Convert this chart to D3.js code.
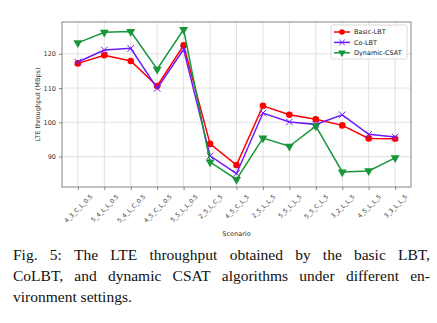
<!DOCTYPE html>
<html>
<head>
<meta charset="utf-8">
<script src="https://cdn.jsdelivr.net/npm/d3@7"></script>
<style>
  body { margin: 0; background: #fff; }
  svg { display: block; }
</style>
</head>
<body>
<div id="chart"></div>
<script>
// scenarios on the x axis
const scenarios = ["4_3_C_L_0.5", "5_4_L_L_0.5", "5_4_L_C_0.5", "4_5_C_L_0.5", "5_5_L_L_0.5",
  "2_5_L_C_5", "4_5_C_L_5", "2_5_L_L_5", "5_5_L_L_5", "5_5_C_L_5", "3_2_L_L_5", "4_5_L_L_5", "3_3_L_L_5"];

const basicLBT = [117.2, 119.6, 117.9, 110.6, 122.5, 93.7, 87.5, 104.8, 102.2, 100.9, 99.1, 95.3, 95.2];
const coLBT = [117.6, 121.1, 121.6, 109.9, 121.3, 90.2, 85.0, 102.7, 100.1, 99.4, 102.2, 96.5, 95.7];
const dynamicCSAT = [123.2, 126.3, 126.5, 115.5, 127.1, 88.4, 83.3, 95.4, 93.0, 98.9, 85.5, 85.8, 89.6];

const yTicks = [90, 100, 110, 120];
const captionLines = [
  "Fig. 5: The LTE throughput obtained by the basic LBT,",
  "CoLBT, and dynamic CSAT algorithms under different en-",
  "vironment settings."
];

const W = 437, H = 323;
const plot = {left: 62, right: 411, top: 22, bottom: 187};

const series = [
  {name: "Basic-LBT", values: basicLBT, color: "#ff0000", marker: "circle"},
  {name: "Co-LBT", values: coLBT, color: "#6a1aff", marker: "x"},
  {name: "Dynamic-CSAT", values: dynamicCSAT, color: "#17973a", marker: "tri"}
];

const svg = d3.select("#chart").append("svg")
  .attr("width", W).attr("height", H);

const n = scenarios.length;
const x = d3.scaleLinear().domain([-0.6, n - 1 + 0.6]).range([plot.left, plot.right]);
const all = series.flatMap(s => s.values);
const lo = d3.min(all), hi = d3.max(all), pad = (hi - lo) * 0.05;
const y = d3.scaleLinear().domain([lo - pad, hi + pad]).range([plot.bottom, plot.top]);

// grid
const grid = svg.append("g").attr("stroke", "#d9d9d9").attr("stroke-width", 0.8);
grid.selectAll(".gx").data(d3.range(n)).enter().append("line")
  .attr("x1", d => x(d)).attr("x2", d => x(d))
  .attr("y1", plot.top).attr("y2", plot.bottom);
grid.selectAll(".gy").data(yTicks).enter().append("line")
  .attr("x1", plot.left).attr("x2", plot.right)
  .attr("y1", d => y(d)).attr("y2", d => y(d));

// axes
const font = "DejaVu Sans, sans-serif";
const xAxis = d3.axisBottom(x).tickValues(d3.range(n)).tickSize(3).tickFormat(i => scenarios[i]);
const gx = svg.append("g").attr("transform", `translate(0,${plot.bottom})`).call(xAxis);
gx.select(".domain").remove();
gx.selectAll("line").attr("stroke", "#555").attr("stroke-width", 0.7);
// rotated labels centred on their tick, tops lined up just under the axis
const labelTop = 6;
gx.selectAll("text")
  .attr("font-family", font).attr("font-size", 6).attr("fill", "#333")
  .attr("text-anchor", "middle")
  .attr("dy", "0.35em").attr("y", 0)
  .each(function() {
    const L = this.getComputedTextLength();
    const cy = labelTop + L * Math.SQRT1_2 / 2 + 2.5;
    d3.select(this).attr("transform", `translate(0,${cy}) rotate(-45)`);
  });

const yAxis = d3.axisLeft(y).tickValues(yTicks).tickSize(3);
const gy = svg.append("g").attr("transform", `translate(${plot.left},0)`).call(yAxis);
gy.select(".domain").remove();
gy.selectAll("line").attr("stroke", "#555").attr("stroke-width", 0.7);
gy.selectAll("text").attr("font-family", font).attr("font-size", 6.5).attr("fill", "#333");

svg.append("rect")
  .attr("x", plot.left).attr("y", plot.top)
  .attr("width", plot.right - plot.left).attr("height", plot.bottom - plot.top)
  .attr("fill", "none").attr("stroke", "#666").attr("stroke-width", 0.8);

svg.append("text")
  .attr("transform", `translate(40,${(plot.top + plot.bottom) / 2}) rotate(-90)`)
  .attr("text-anchor", "middle").attr("font-family", font).attr("font-size", 6.5).attr("fill", "#333")
  .text("LTE throughput (MBps)");

svg.append("text")
  .attr("x", (plot.left + plot.right) / 2).attr("y", 236)
  .attr("text-anchor", "middle").attr("font-family", font).attr("font-size", 6.5).attr("fill", "#333")
  .text("Scenario");

function drawMarker(g, type, color, size) {
  if (type === "circle") {
    g.append("circle").attr("r", size).attr("fill", color);
  } else if (type === "x") {
    g.append("path").attr("d", `M${-size},${-size}L${size},${size}M${-size},${size}L${size},${-size}`)
      .attr("stroke", color).attr("stroke-width", 1);
  } else {
    g.append("path").attr("d", d3.symbol(d3.symbolTriangle, size * size * 3.2)())
      .attr("transform", "rotate(180)").attr("fill", color);
  }
}

const line = d3.line().x((d, i) => x(i)).y(d => y(d));

series.forEach(s => {
  svg.append("path").attr("d", line(s.values))
    .attr("fill", "none").attr("stroke", s.color).attr("stroke-width", 1.5);
  s.values.forEach((v, i) => {
    const g = svg.append("g").attr("transform", `translate(${x(i)},${y(v)})`);
    drawMarker(g, s.marker, s.color, 3.3);
  });
});

// legend
const lg = svg.append("g").attr("transform", "translate(331,25)");
lg.append("rect").attr("width", 76).attr("height", 34).attr("rx", 1.5)
  .attr("fill", "#fff").attr("fill-opacity", 0.85).attr("stroke", "#d0d0d0").attr("stroke-width", 0.8);
series.forEach((s, i) => {
  const row = lg.append("g").attr("transform", `translate(0,${7 + i * 10.4})`);
  row.append("line").attr("x1", 3).attr("x2", 19).attr("stroke", s.color).attr("stroke-width", 1.5);
  const m = row.append("g").attr("transform", "translate(11,0)");
  drawMarker(m, s.marker, s.color, 2.8);
  row.append("text").attr("x", 23).attr("dy", "0.35em")
    .attr("font-family", font).attr("font-size", 6.5).attr("fill", "#222").text(s.name);
});

// caption, justified except the last line
const capLeft = 13, capRight = 430, capSize = 15.5;
captionLines.forEach((txt, li) => {
  const yPos = 260 + li * 21;
  const words = txt.split(" ");
  const tg = svg.append("g");
  const nodes = words.map(w => tg.append("text")
    .attr("font-family", "Liberation Serif, Times New Roman, serif")
    .attr("font-size", capSize).attr("fill", "#111").attr("y", yPos).text(w));
  const widths = nodes.map(t => t.node().getComputedTextLength());
  const total = d3.sum(widths);
  const last = li === captionLines.length - 1;
  const gap = last ? capSize * 0.25 : (capRight - capLeft - total) / (words.length - 1);
  let cx = capLeft;
  nodes.forEach((t, i) => { t.attr("x", cx); cx += widths[i] + gap; });
});
</script>
</body>
</html>
